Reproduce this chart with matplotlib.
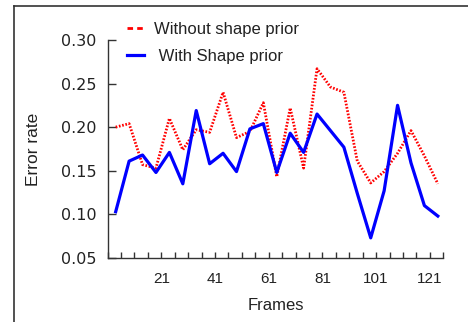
import numpy as np
import matplotlib
matplotlib.use('Agg')
import matplotlib.pyplot as plt
from matplotlib.lines import Line2D

# frames sampled every 5
frames = np.arange(4, 125, 5)

# error rate without shape prior (red dotted)
err_without = [0.200, 0.204, 0.157, 0.153, 0.210, 0.174, 0.197, 0.194, 0.240, 0.188,
               0.195, 0.228, 0.143, 0.222, 0.153, 0.267, 0.246, 0.240, 0.161, 0.136,
               0.149, 0.170, 0.196, 0.167, 0.135]

# error rate with shape prior (blue)
err_with = [0.103, 0.161, 0.168, 0.148, 0.171, 0.135, 0.219, 0.158, 0.170, 0.149,
            0.198, 0.204, 0.148, 0.193, 0.171, 0.215, 0.196, 0.177, 0.124, 0.073,
            0.127, 0.225, 0.159, 0.110, 0.098]

xtick_labels = [21, 41, 61, 81, 101, 121]
yticks = [0.05, 0.10, 0.15, 0.20, 0.25, 0.30]

plt.rcParams['font.family'] = ['Liberation Sans', 'DejaVu Sans']

fig = plt.figure(figsize=(4.68, 3.22), dpi=100)
ax = fig.add_axes([0.230, 0.199, 0.717, 0.677])

ax.plot(frames, err_without, color='#ff0000', lw=2.0, linestyle=(0, (0.6, 0.6)))
ax.plot(frames, err_with, color='#0000ff', lw=2.3)

ax.set_xlim(1, 126)
ax.set_ylim(0.05, 0.30)

ax.set_xticks(np.arange(1, 127, 5), minor=True)
ax.set_xticks(xtick_labels)
ax.set_xticklabels([str(v) for v in xtick_labels], fontsize=11)
ax.set_yticks(yticks)
ax.set_yticklabels(['%.2f' % v for v in yticks], fontsize=11.5, family='DejaVu Sans')

ax.tick_params(axis='x', which='both', direction='in', length=4.5, width=1,
               color='#333333', pad=10, labelcolor='#222222')
ax.tick_params(axis='y', direction='in', length=6, width=1, color='#333333',
               pad=8, labelcolor='#222222')

for s in ['top', 'right']:
    ax.spines[s].set_visible(False)
for s in ['left', 'bottom']:
    ax.spines[s].set_color('#333333')
    ax.spines[s].set_linewidth(1.0)

ax.set_xlabel('Frames', fontsize=12, color='#222222', labelpad=9)
ax.set_ylabel('Error rate', fontsize=12.5, color='#222222', labelpad=14)

handles = [Line2D([], [], color='#ff0000', lw=2.0, linestyle=(0, (2.0, 1.5))),
           Line2D([], [], color='#0000ff', lw=2.3)]
fig.legend(handles, ['Without shape prior', ' With Shape prior'],
           loc='upper left', bbox_to_anchor=(0.240, 0.978), frameon=False,
           fontsize=12, handlelength=1.0, handletextpad=0.6, labelspacing=0.7,
           labelcolor='#222222')

# frame around the figure (top and left edges)
fig.add_artist(Line2D([13.5 / 468, 1.0], [1 - 5.5 / 322, 1 - 5.5 / 322],
                      transform=fig.transFigure, color='#333333', lw=1.2))
fig.add_artist(Line2D([13.5 / 468, 13.5 / 468], [0.0, 1 - 5.5 / 322],
                      transform=fig.transFigure, color='#333333', lw=1.2))

plt.savefig('out.png', dpi=100)
